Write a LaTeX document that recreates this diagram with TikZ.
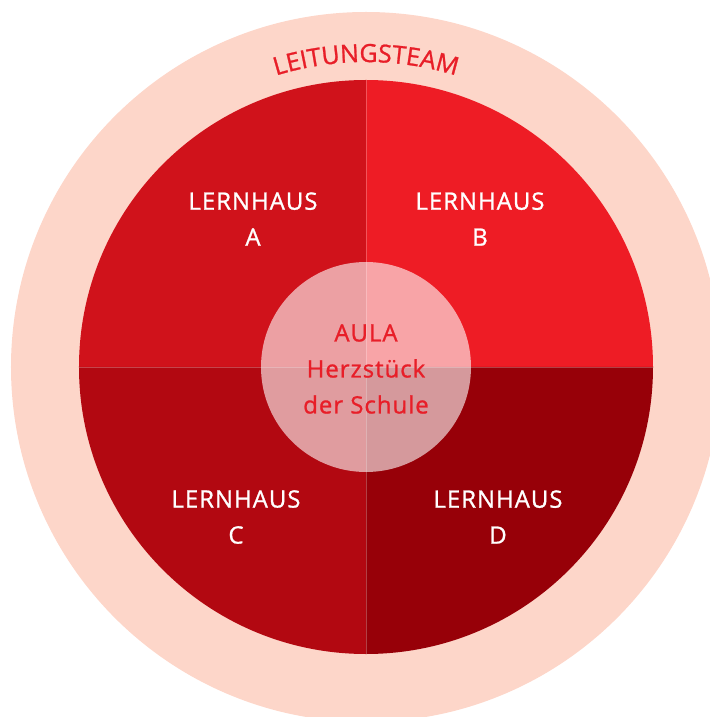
\documentclass[tikz,border=0pt]{standalone}
\usepackage{fontspec}
\setmainfont{Open Sans}[LetterSpace=4,FakeBold=1]
\usetikzlibrary{positioning,decorations.text}
\definecolor{ringrosa}{RGB}{253,214,201}
\definecolor{hausA}{RGB}{208,18,27}
\definecolor{hausB}{RGB}{238,28,37}
\definecolor{hausC}{RGB}{178,8,17}
\definecolor{hausD}{RGB}{151,0,8}
\definecolor{schrift}{RGB}{232,30,40}
\newcommand{\groesse}{\fontsize{24}{36}\selectfont}

\begin{document}
\begin{tikzpicture}
	[x=1pt,y=1pt,every node/.style={inner sep=0pt,align=center,font=\groesse},
	haus/.style={text=white},
	aula/.style={text=schrift}]
	\useasboundingbox (-366,-350) rectangle (343,367);
	\fill[ringrosa] (0,0) circle[radius=355];

	% vier Lernhaeuser
	\foreach \start/\farbe in {90/hausA,0/hausB,180/hausC,270/hausD}
	{
		\fill[\farbe] (0,0) -- (\start:287) arc[start angle=\start,delta angle=90,radius=287] -- cycle;
	};
	\fill[white,opacity=0.6] (0,0) circle[radius=105];
	\draw[white,opacity=0.25,line width=0.8pt] (-287,0) -- (287,0) (0,-287) -- (0,287);

	\path[decorate,decoration={text along path,text align=center,text color=schrift,
		text={|\fontsize{25}{36}\selectfont|LEITUNGSTEAM}}]
		(120:305) arc[start angle=120,end angle=60,radius=305];

	\foreach \n/\x/\y in {A/-113/148,B/114/148,C/-130/-150,D/132/-150}
	{
		\node[haus] (haus\n) at (\x,\y) {LERNHAUS\\\n};
	};
	\node[aula] (aula) at (0,-2) {AULA\\Herzstück\\der Schule};
\end{tikzpicture}
\end{document}
